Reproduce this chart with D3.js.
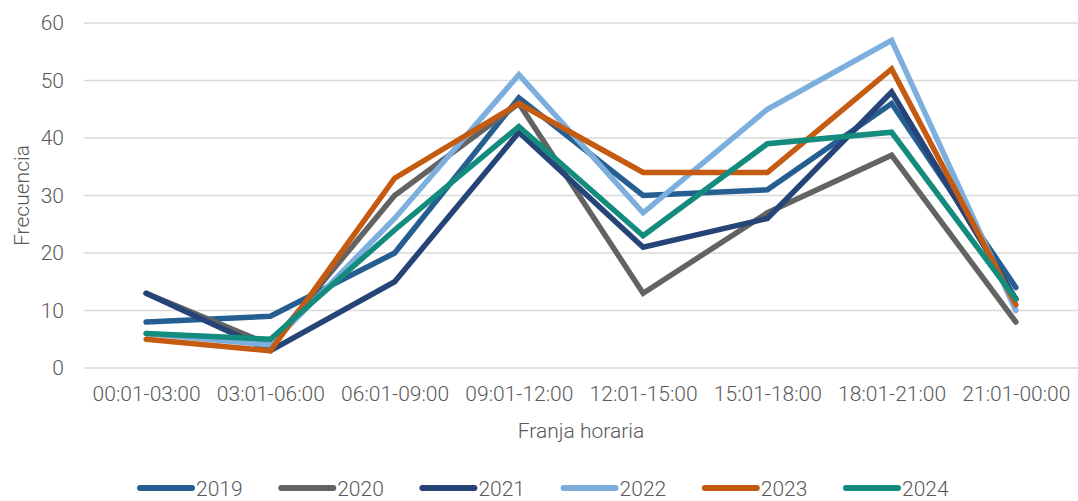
<!DOCTYPE html>
<meta charset="utf-8">
<style>
    body { margin: 0; background: #fff; }
    text { font-family: Roboto, "Liberation Sans", sans-serif; font-weight: 300; fill: #595959; }
</style>
<svg width="1078" height="501"></svg>
<script src="https://d3js.org/d3.v7.min.js"></script>
<script>
    var franjas = ["00:01-03:00", "03:01-06:00", "06:01-09:00", "09:01-12:00",
                   "12:01-15:00", "15:01-18:00", "18:01-21:00", "21:01-00:00"];
    var years = ["2019", "2020", "2021", "2022", "2023", "2024"];
    var v2019 = [8, 9, 20, 47, 30, 31, 46, 14];
    var v2020 = [13, 4, 30, 46, 13, 27, 37, 8];
    var v2021 = [13, 3, 15, 41, 21, 26, 48, 12];
    var v2022 = [6, 4, 26, 51, 27, 45, 57, 10];
    var v2023 = [5, 3, 33, 46, 34, 34, 52, 11];
    var v2024 = [6, 5, 24, 42, 23, 39, 41, 12];
    var yTicks = [0, 10, 20, 30, 40, 50, 60];
    var colors = ["#255e91", "#636363", "#264478", "#7cafdd", "#c55a11", "#148c7d"];

    var series = [v2019, v2020, v2021, v2022, v2023, v2024].map(function (v, i) {
        return { year: years[i], values: v, color: colors[i] };
    });

    var svg = d3.select("svg"),
        plotL = 84, plotR = 1078, plotT = 23, plotB = 368;

    var x = d3.scalePoint().domain(franjas).range([plotL, plotR]).padding(0.5);
    var y = d3.scaleLinear().domain([0, 60]).range([plotB, plotT]);

    // grid
    svg.append("g").selectAll("line")
        .data(yTicks)
        .enter().append("line")
        .attr("x1", plotL).attr("x2", plotR)
        .attr("y1", function (d) { return y(d); })
        .attr("y2", function (d) { return y(d); })
        .style("stroke", "#d9d9d9").style("stroke-width", 1.5);

    var yAxis = svg.append("g")
        .attr("transform", "translate(" + plotL + ",0)")
        .call(d3.axisLeft(y).tickValues(yTicks).tickSize(0).tickPadding(20));
    yAxis.select(".domain").remove();
    yAxis.selectAll("text").style("font-size", "21px").style("fill", "#595959")
        .style("font-family", "Roboto, sans-serif").style("font-weight", 300);

    var xAxis = svg.append("g")
        .attr("transform", "translate(0," + plotB + ")")
        .call(d3.axisBottom(x).tickSize(0).tickPadding(18));
    xAxis.select(".domain").remove();
    xAxis.selectAll("text").style("font-size", "21px").style("fill", "#595959")
        .style("font-family", "Roboto, sans-serif").style("font-weight", 300);

    svg.append("text")
        .attr("transform", "translate(29," + ((plotT + plotB) / 2) + ") rotate(-90)")
        .attr("text-anchor", "middle")
        .style("font-size", "21px")
        .text("Frecuencia");

    svg.append("text")
        .attr("x", (plotL + plotR) / 2).attr("y", 438)
        .attr("text-anchor", "middle")
        .style("font-size", "21px")
        .text("Franja horaria");

    var line = d3.line()
        .x(function (d, i) { return x(franjas[i]); })
        .y(function (d) { return y(d); });

    svg.append("g").selectAll("path")
        .data(series)
        .enter().append("path")
        .attr("d", function (d) { return line(d.values); })
        .style("fill", "none")
        .style("stroke", function (d) { return d.color; })
        .style("stroke-width", 5.5)
        .style("stroke-linejoin", "miter")
        .style("stroke-linecap", "round");

    // legend
    var leg = svg.append("g").selectAll("g")
        .data(series)
        .enter().append("g")
        .attr("transform", function (d, i) { return "translate(" + (140 + i * 141.2) + ",488)"; });
    leg.append("line")
        .attr("x1", 0).attr("x2", 52)
        .style("stroke", function (d) { return d.color; })
        .style("stroke-width", 6)
        .style("stroke-linecap", "round");
    leg.append("text")
        .attr("x", 56).attr("y", 7.5)
        .style("font-size", "21px")
        .text(function (d) { return d.year; });
</script>
